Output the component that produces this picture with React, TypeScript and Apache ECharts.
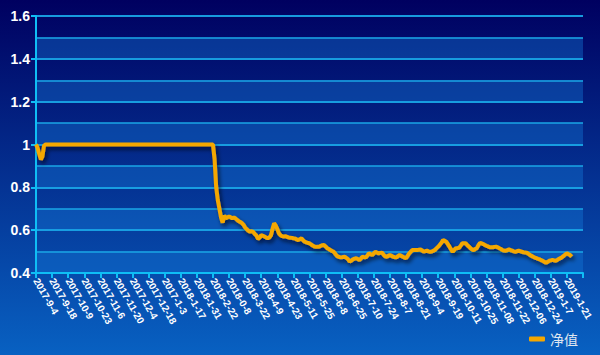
import React, { useEffect, useRef } from "react";
import * as echarts from "echarts";

// Tick labels on the x axis, one every 10 trading days
const dateLabels = [
  "2017-9-4", "2017-9-18", "2017-10-9", "2017-10-23", "2017-11-6", "2017-11-20",
  "2017-12-4", "2017-12-18", "2017-1-3", "2018-1-17", "2018-1-31", "2018-2-22",
  "2018-0-8", "2018-3-22", "2018-4-9", "2018-4-23", "2018-5-11", "2018-5-25",
  "2018-6-8", "2018-6-25", "2018-7-10", "2018-7-24", "2018-8-7", "2018-8-21",
  "2018-9-4", "2018-9-19", "2018-10-11", "2018-10-25", "2018-11-08", "2018-11-22",
  "2018-12-06", "2018-12-24", "2019-1-7", "2019-1-21",
];
const pointsPerLabel = 10;
const totalSteps = 340;

// 净值 (net value), one per trading day
const netValues = [
  1.0, 0.985, 0.955, 0.93, 0.945, 0.995,
  1, 1, 1, 1, 1, 1, 1, 1, 1, 1, 1, 1, 1, 1, 1,
  1, 1, 1, 1, 1, 1, 1, 1, 1, 1, 1, 1, 1, 1, 1,
  1, 1, 1, 1, 1, 1, 1, 1, 1, 1, 1, 1, 1, 1, 1,
  1, 1, 1, 1, 1, 1, 1, 1, 1, 1, 1, 1, 1, 1, 1,
  1, 1, 1, 1, 1, 1, 1, 1, 1, 1, 1, 1, 1, 1, 1,
  1, 1, 1, 1, 1, 1, 1, 1, 1, 1, 1, 1, 1, 1, 1,
  1, 1, 1, 1, 1, 1, 1, 1, 1, 1, 1, 1, 1, 1, 1,
  0.93, 0.8, 0.74, 0.7, 0.66, 0.635, 0.668, 0.655, 0.66,
  0.664, 0.66, 0.655, 0.66, 0.655, 0.648, 0.642, 0.638, 0.633, 0.625,
  0.612, 0.605, 0.597, 0.593, 0.595, 0.592, 0.582, 0.575, 0.56, 0.565,
  0.577, 0.574, 0.57, 0.566, 0.562, 0.566, 0.575, 0.605, 0.632, 0.622,
  0.605, 0.585, 0.576, 0.572, 0.57, 0.572, 0.569, 0.566, 0.565, 0.564,
  0.562, 0.561, 0.557, 0.554, 0.558, 0.562, 0.553, 0.546, 0.543, 0.54,
  0.539, 0.533, 0.528, 0.524, 0.522, 0.523, 0.523, 0.527, 0.53, 0.531,
  0.524, 0.516, 0.512, 0.507, 0.503, 0.499, 0.49, 0.48, 0.476, 0.474,
  0.473, 0.475, 0.476, 0.47, 0.464, 0.453, 0.458, 0.464, 0.467, 0.469,
  0.465, 0.461, 0.468, 0.476, 0.474, 0.473, 0.482, 0.492, 0.488, 0.484,
  0.492, 0.499, 0.495, 0.492, 0.494, 0.495, 0.486, 0.478, 0.476, 0.48,
  0.484, 0.48, 0.476, 0.474, 0.473, 0.479, 0.484, 0.48, 0.476, 0.472,
  0.469, 0.48, 0.492, 0.5, 0.507, 0.507, 0.508, 0.507, 0.509, 0.51,
  0.505, 0.5, 0.502, 0.504, 0.501, 0.499, 0.5, 0.504, 0.508, 0.516,
  0.523, 0.532, 0.541, 0.554, 0.55, 0.546, 0.535, 0.523, 0.51, 0.499,
  0.508, 0.516, 0.516, 0.518, 0.528, 0.539, 0.539, 0.539, 0.531, 0.524,
  0.516, 0.51, 0.507, 0.512, 0.516, 0.53, 0.541, 0.538, 0.535, 0.531,
  0.527, 0.524, 0.52, 0.52, 0.52, 0.522, 0.523, 0.52, 0.516, 0.512,
  0.507, 0.505, 0.504, 0.507, 0.51, 0.507, 0.504, 0.501, 0.499, 0.502,
  0.504, 0.502, 0.499, 0.497, 0.496, 0.495, 0.49, 0.484, 0.48, 0.476,
  0.472, 0.469, 0.466, 0.464, 0.46, 0.457, 0.452, 0.448, 0.452, 0.457,
  0.459, 0.461, 0.459, 0.457, 0.461, 0.466, 0.469, 0.474, 0.48, 0.487,
  0.492, 0.488, 0.484, 0.476,
];

const yMin = 0.4;
const yMax = 1.6;

export default function App() {
  const ref = useRef<HTMLDivElement>(null);
  useEffect(() => {
    if (!ref.current) return;
    const chart = echarts.init(ref.current, undefined, { renderer: "svg" });
    const cats: string[] = [];
    for (let i = 0; i <= totalSteps; i++) {
      cats.push(i % pointsPerLabel === 0 ? dateLabels[i / pointsPerLabel] ?? "" : "");
    }
    const lastIdx = cats.length - 1;
    const cyan = "#0fbef5";
    chart.setOption({
      animation: false,
      backgroundColor: {
        type: "linear", x: 0, y: 0, x2: 0, y2: 1,
        colorStops: [
          { offset: 0, color: "#000060" },
          { offset: 1, color: "#0861c2" },
        ],
      },
      grid: { left: 36, right: 17, top: 16, bottom: 82 },
      legend: {
        right: 17,
        bottom: 4,
        icon: "roundRect",
        itemWidth: 16,
        itemHeight: 5,
        itemGap: 10,
        textStyle: { color: "#dfe6f0", fontSize: 14, fontFamily: "Noto Sans CJK SC" },
        data: ["净值"],
      },
      xAxis: {
        type: "category",
        boundaryGap: false,
        data: cats,
        axisLine: { lineStyle: { color: cyan, width: 2 } },
        axisTick: {
          show: true,
          length: 5,
          interval: (i: number, v: string) => v !== "" || i === lastIdx,
          lineStyle: { color: cyan, width: 2 },
        },
        axisLabel: {
          interval: (_i: number, v: string) => v !== "",
          rotate: -60,
          color: "#ffffff",
          fontSize: 10,
          fontWeight: "bold",
          fontFamily: "Liberation Sans, Arial",
          margin: 6,
        },
        splitLine: { show: false },
      },
      yAxis: [
        {
          type: "value",
          min: yMin,
          max: yMax,
          interval: 0.2,
          axisLine: { show: true, lineStyle: { color: cyan, width: 2 } },
          axisTick: { show: true, length: 5, lineStyle: { color: cyan, width: 2 } },
          axisLabel: {
            color: "#ffffff",
            fontSize: 14,
            fontWeight: "bold",
            fontFamily: "Liberation Sans, Arial",
            margin: 6,
          },
          splitLine: { show: true, lineStyle: { color: "#1aa6e6", width: 1.5 } },
        },
        {
          type: "value",
          min: yMin,
          max: yMax,
          interval: 0.1,
          position: "left",
          axisLine: { show: false },
          axisTick: { show: false },
          axisLabel: { show: false },
          splitLine: { show: true, lineStyle: { color: "#1aa6e6", width: 1.5 } },
          splitArea: {
            show: true,
            areaStyle: { color: ["rgba(20,120,215,0.4)", "rgba(0,0,0,0)"] },
          },
        },
      ],
      series: [
        {
          name: "净值",
          type: "line",
          data: netValues,
          yAxisIndex: 0,
          symbol: "none",
          showSymbol: false,
          lineStyle: {
            color: "#f5a700",
            width: 4,
            shadowColor: "rgba(0,0,20,0.65)",
            shadowBlur: 4,
            shadowOffsetX: 2,
            shadowOffsetY: 3,
          },
          itemStyle: { color: "#f5a700" },
          z: 5,
        },
      ],
    });
    return () => chart.dispose();
  }, []);
  return (
    <div
      ref={ref}
      style={{ position: "fixed", left: 0, top: 0, width: 600, height: 355 }}
    />
  );
}
